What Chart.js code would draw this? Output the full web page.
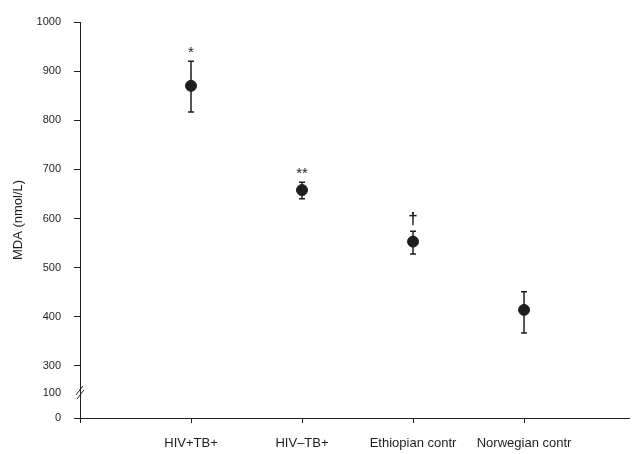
<!DOCTYPE html>
<html>
<head>
<meta charset="utf-8">
<script src="https://cdn.jsdelivr.net/npm/chart.js@4/dist/chart.umd.min.js"></script>
<style>
  html, body { margin: 0; padding: 0; background: #fff; }
  #wrap { width: 636px; height: 454px; }
</style>
</head>
<body>
<div id="wrap"><canvas id="mdaChart" width="636" height="454"></canvas></div>
<script>
const categories = ['HIV+TB+', 'HIV\u2013TB+', 'Ethiopian contr', 'Norwegian contr'];
const mdaMean = [870, 658, 553, 414];
const mdaUpper = [920, 674, 574, 451];
const mdaLower = [817, 640, 528, 367];
const significance = ['*', '**', '\u2020', ''];
const yTickLabels = [0, 100, 300, 400, 500, 600, 700, 800, 900, 1000];

// axis is broken below 300: 0 and 100 are squeezed under the break
function brokenAxis(v) {
    return v >= 300 ? v : 194 + v * 0.51;
}
const breakValue = brokenAxis(100);

const ink = '#1e1e1e';

const errorBars = {
    id: 'errorBars',
    beforeDatasetsDraw(chart) {
        const { ctx, scales: { x, y } } = chart;
        ctx.save();
        ctx.strokeStyle = ink;
        ctx.lineWidth = 1.5;
        categories.forEach((c, i) => {
            const px = x.getPixelForValue(i);
            const top = y.getPixelForValue(mdaUpper[i]);
            const bot = y.getPixelForValue(mdaLower[i]);
            ctx.beginPath();
            ctx.moveTo(px, top);
            ctx.lineTo(px, bot);
            ctx.moveTo(px - 3, top);
            ctx.lineTo(px + 3, top);
            ctx.moveTo(px - 3, bot);
            ctx.lineTo(px + 3, bot);
            ctx.stroke();
        });
        ctx.restore();
    },
    afterDatasetsDraw(chart) {
        const { ctx, scales: { x, y } } = chart;
        ctx.save();
        ctx.fillStyle = ink;
        ctx.textAlign = 'center';
        ctx.textBaseline = 'bottom';
        significance.forEach((s, i) => {
            if (!s) return;
            const px = x.getPixelForValue(i);
            const top = y.getPixelForValue(mdaUpper[i]);
            ctx.font = s === '\u2020' ? 'bold 17px "Liberation Sans"' : '15px "Liberation Sans"';
            ctx.fillText(s, px, top - (s === '\u2020' ? 3 : 1));
        });

        // break marks on the y axis
        const bx = x.left;
        const by = y.getPixelForValue(breakValue);
        ctx.strokeStyle = ink;
        ctx.lineWidth = 1;
        ctx.beginPath();
        ctx.moveTo(bx - 4, by + 2);
        ctx.lineTo(bx + 3, by - 7);
        ctx.moveTo(bx - 3, by + 6);
        ctx.lineTo(bx + 4, by - 3);
        ctx.stroke();
        ctx.restore();
    }
};

new Chart(document.getElementById('mdaChart'), {
    type: 'scatter',
    data: {
        datasets: [{
            data: categories.map((c, i) => ({ x: i, y: mdaMean[i] })),
            backgroundColor: ink,
            borderColor: ink,
            pointRadius: 5.5,
            pointHoverRadius: 5.5,
            showLine: false
        }]
    },
    options: {
        responsive: false,
        animation: false,
        layout: { padding: { top: 22, right: 2, left: 0, bottom: 0 } },
        plugins: { legend: { display: false }, tooltip: { enabled: false } },
        scales: {
            x: {
                type: 'linear',
                min: -1,
                max: 3.95,
                afterBuildTicks: s => { s.ticks = [-1, 0, 1, 2, 3].map(v => ({ value: v })); },
                afterFit: s => { s.height = 36; },
                border: { color: ink, width: 1 },
                grid: { drawOnChartArea: false, color: ink, tickLength: 5 },
                ticks: {
                    color: ink,
                    padding: 13,
                    maxRotation: 0,
                    autoSkip: false,
                    font: { family: '"Liberation Sans"', size: 13 },
                    callback: v => categories[v] || ''
                }
            },
            y: {
                type: 'linear',
                min: brokenAxis(0),
                max: 1000,
                afterBuildTicks: s => { s.ticks = yTickLabels.map(v => ({ value: brokenAxis(v), label: v })); },
                afterFit: s => { s.width = 80; },
                border: { color: ink, width: 1 },
                grid: {
                    drawOnChartArea: false,
                    tickLength: 6,
                    color: c => (c.tick && c.tick.value === breakValue) ? 'rgba(0,0,0,0)' : ink
                },
                ticks: {
                    color: ink,
                    padding: 13,
                    autoSkip: false,
                    font: { family: '"Liberation Sans"', size: 11 },
                    callback: (v, i, ticks) => String(ticks[i].label)
                },
                title: {
                    display: true,
                    text: 'MDA (nmol/L)',
                    color: ink,
                    font: { family: '"Liberation Sans"', size: 13 },
                    padding: { top: 11, bottom: 0 }
                }
            }
        }
    },
    plugins: [errorBars]
});
</script>
</body>
</html>
